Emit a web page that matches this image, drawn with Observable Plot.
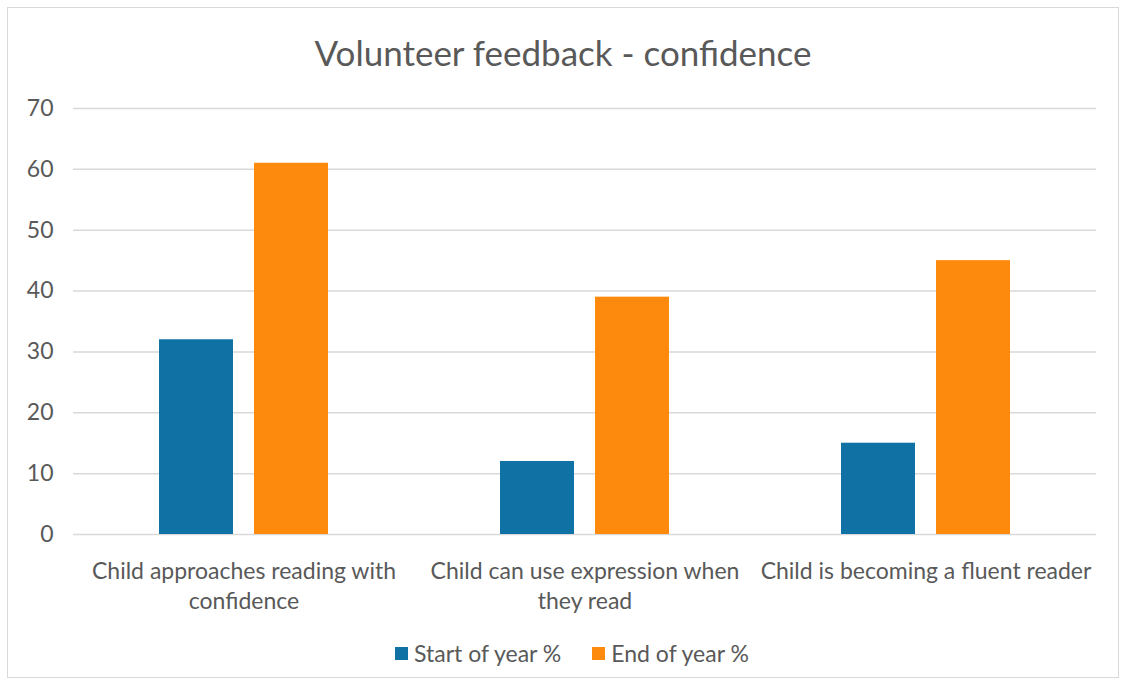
<!DOCTYPE html>
<html>
<head>
<meta charset="utf-8">
<script src="https://cdn.jsdelivr.net/npm/d3@7"></script>
<script src="https://cdn.jsdelivr.net/npm/@observablehq/plot@0.6"></script>
<style>
  html, body { margin: 0; padding: 0; background: #fff; }
  #frame {
    position: absolute; left: 7px; top: 7px; width: 1112px; height: 671px;
    box-sizing: border-box; border: 1px solid #d9d9d9; background: #fff;
    font-family: Lato, "Open Sans", sans-serif; color: #595959;
  }
  #title { height: 80px; text-align: center; font-size: 35px; line-height: 35px; padding-top: 27px; box-sizing: border-box; }
  #legend { position: absolute; left: 18px; right: 0; top: 630px; height: 30px; display: flex; justify-content: center; align-items: center; gap: 31px; font-size: 23px; }
  .item { display: flex; align-items: center; }
  .sw { width: 13px; height: 13px; margin-right: 6px; }
  svg { display: block; }
</style>
</head>
<body>
<div id="frame">
  <div id="title">Volunteer feedback - confidence</div>
  <div id="chart"></div>
  <div id="legend"></div>
</div>
<script>
const categories = [
  "Child approaches reading with confidence",
  "Child can use expression when they read",
  "Child is becoming a fluent reader"
];
const tickLabels = [
  "Child approaches reading with\nconfidence",
  "Child can use expression when\nthey read",
  "Child is becoming a fluent reader"
];
const series = ["Start of year %", "End of year %"];
const startValues = [32, 12, 15];
const endValues = [61, 39, 45];
const colors = ["#1071A4", "#FD8A0C"];
const yTicks = [0, 10, 20, 30, 40, 50, 60, 70];

const data = [];
categories.forEach((c, i) => {
  data.push({category: c, series: series[0], value: startValues[i]});
  data.push({category: c, series: series[1], value: endValues[i]});
});

const chart = Plot.plot({
  width: 1110,
  height: 526,
  marginTop: 20,
  marginLeft: 64,
  marginRight: 22,
  marginBottom: 80,
  style: {fontFamily: "Lato, 'Open Sans', sans-serif", fontSize: "23px", color: "#595959", background: "transparent", overflow: "visible"},
  fx: {domain: categories, paddingInner: 0, paddingOuter: 0, label: null},
  x: {domain: series, paddingInner: 0.219, paddingOuter: 0.886, axis: null},
  y: {domain: [0, 70], ticks: yTicks},
  color: {domain: series, range: colors},
  marks: [
    Plot.gridY(yTicks, {stroke: "#d9d9d9", strokeOpacity: 1, strokeWidth: 1.5}),
    Plot.axisY({ticks: yTicks, tickSize: 0, tickPadding: 20, label: null, fill: "#595959"}),
    Plot.axisFx({anchor: "bottom", tickSize: 0, tickPadding: 23, lineHeight: 1.3, label: null, fill: "#595959",
      tickFormat: d => tickLabels[categories.indexOf(d)]}),
    Plot.barY(data, {fx: "category", x: "series", y: "value", fill: "series"})
  ]
});
document.getElementById("chart").appendChild(chart);

const legend = document.getElementById("legend");
series.forEach((s, i) => {
  const item = document.createElement("div");
  item.className = "item";
  const sw = document.createElement("span");
  sw.className = "sw";
  sw.style.background = colors[i];
  const label = document.createElement("span");
  label.textContent = s;
  item.appendChild(sw);
  item.appendChild(label);
  legend.appendChild(item);
});
</script>
</body>
</html>
